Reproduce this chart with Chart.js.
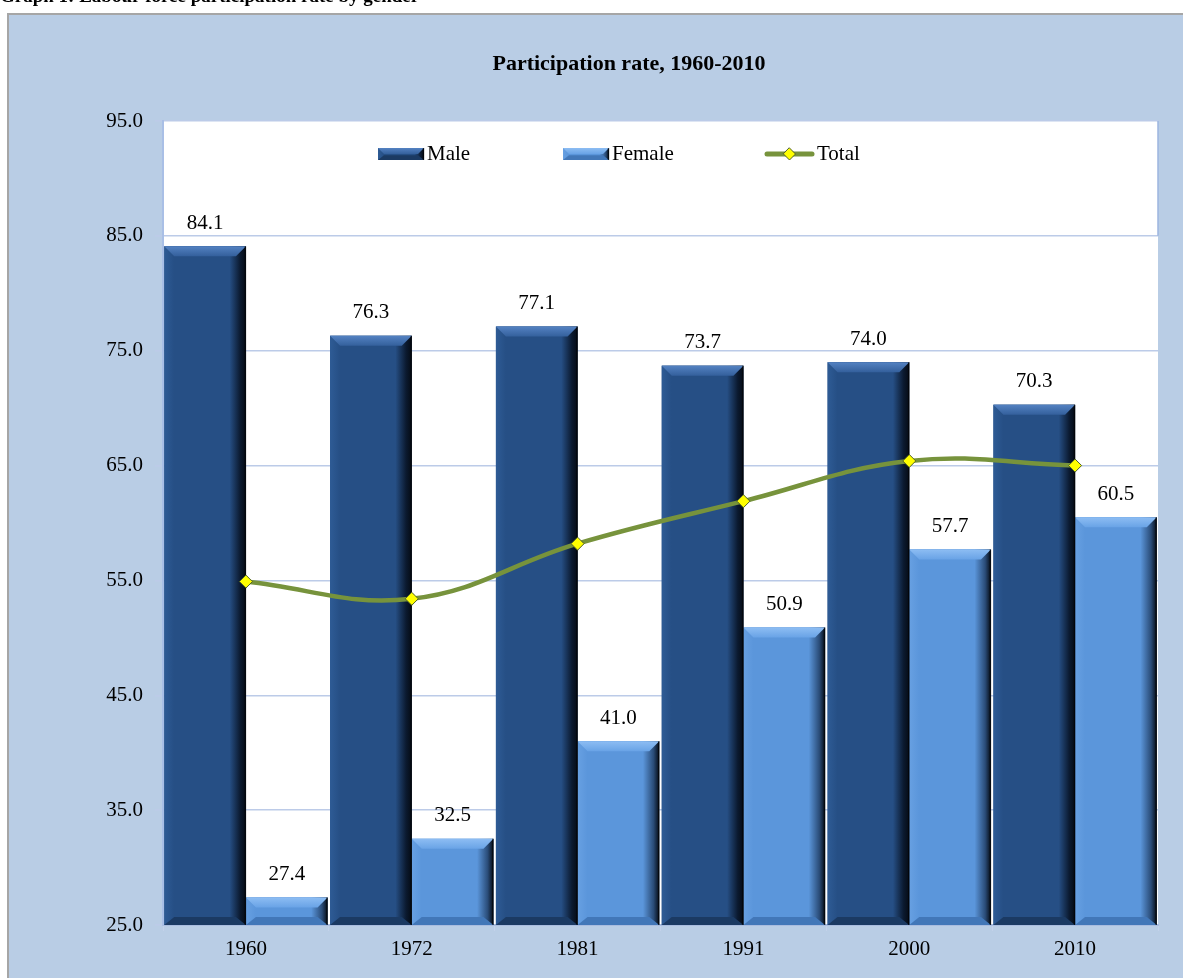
<!DOCTYPE html>
<html>
<head>
<meta charset="utf-8">
<script src="https://cdn.jsdelivr.net/npm/chart.js@4.4.1/dist/chart.umd.min.js"></script>
<style>
  html, body { margin: 0; padding: 0; background: #fff; }
  #wrap { position: relative; width: 1183px; height: 978px; overflow: hidden; }
  canvas { position: absolute; left: 0; top: 0; }
</style>
</head>
<body>
<div id="wrap"><canvas id="grafico" width="1183" height="978"></canvas></div>
<script>
// datos
const years = ["1960", "1972", "1981", "1991", "2000", "2010"];
const male = [84.1, 76.3, 77.1, 73.7, 74.0, 70.3];
const female = [27.4, 32.5, 41.0, 50.9, 57.7, 60.5];
const total = [54.9, 53.4, 58.2, 61.9, 65.4, 65.0];
const yTicks = [25, 35, 45, 55, 65, 75, 85, 95];

const serif = '"Liberation Serif", "Times New Roman", serif';

// colores de las barras con bisel
const tonos = {
    Male: { base: '#264F85', top1: '#5482C2', top2: '#34609C', dark: '#0B1A30', bottom: '#1B3A63', left: '#2E5B95' },
    Female: { base: '#5B96DB', top1: '#8DBDF3', top2: '#69A3E6', dark: '#2A4C78', bottom: '#4277B8', left: '#67A0E2' }
};

function dibujarBarra(ctx, x0, x1, y0, y1, t) {
    const b = Math.min(10, (y1 - y0) / 2);
    ctx.save();
    // cuerpo con degradado horizontal
    let g = ctx.createLinearGradient(x0, 0, x1, 0);
    g.addColorStop(0, t.left);
    g.addColorStop(0.12, t.base);
    g.addColorStop(0.8, t.base);
    g.addColorStop(0.93, t.dark);
    g.addColorStop(1, '#050B14');
    ctx.fillStyle = g;
    ctx.fillRect(x0, y0, x1 - x0, y1 - y0);
    // bisel superior
    g = ctx.createLinearGradient(0, y0, 0, y0 + b);
    g.addColorStop(0, t.top1);
    g.addColorStop(1, t.top2);
    ctx.fillStyle = g;
    ctx.beginPath();
    ctx.moveTo(x0, y0);
    ctx.lineTo(x1, y0);
    ctx.lineTo(x1 - b, y0 + b);
    ctx.lineTo(x0 + b, y0 + b);
    ctx.closePath();
    ctx.fill();
    // bisel inferior
    ctx.fillStyle = t.bottom;
    ctx.beginPath();
    ctx.moveTo(x0, y1);
    ctx.lineTo(x1, y1);
    ctx.lineTo(x1 - b, y1 - b * 0.8);
    ctx.lineTo(x0 + b, y1 - b * 0.8);
    ctx.closePath();
    ctx.fill();
    // borde oscuro derecho
    ctx.strokeStyle = 'rgba(0,0,0,0.55)';
    ctx.lineWidth = 1.5;
    ctx.beginPath();
    ctx.moveTo(x1 - 0.5, y0);
    ctx.lineTo(x1 - 0.5, y1);
    ctx.stroke();
    ctx.restore();
}

const fondo = {
    id: 'fondo',
    beforeDraw(chart) {
        const ctx = chart.ctx;
        const a = chart.chartArea;
        ctx.save();
        ctx.fillStyle = '#ffffff';
        ctx.fillRect(0, 0, chart.width, chart.height);
        // texto de la pagina, cortado arriba
        ctx.fillStyle = '#000';
        ctx.font = 'bold 19px ' + serif;
        ctx.textBaseline = 'alphabetic';
        ctx.fillText('Graph 1: Labour force participation rate by gender', 0, 1.5);
        // panel
        ctx.fillStyle = '#B9CDE5';
        ctx.fillRect(8, 14, chart.width, chart.height);
        ctx.strokeStyle = '#A6A6A6';
        ctx.lineWidth = 2;
        ctx.strokeRect(8, 14, chart.width + 10, chart.height + 10);
        // area de trazado
        ctx.fillStyle = '#ffffff';
        ctx.fillRect(a.left, a.top, a.right - a.left, a.bottom - a.top);
        // titulo
        ctx.fillStyle = '#000';
        ctx.font = 'bold 22px ' + serif;
        ctx.textAlign = 'center';
        ctx.textBaseline = 'middle';
        ctx.fillText('Participation rate, 1960-2010', 629, 64);
        ctx.restore();
    },
    afterDatasetDraw(chart, args) {
        const ds = chart.data.datasets[args.index];
        if (ds.type !== 'bar') return;
        const ctx = chart.ctx;
        const t = tonos[ds.label];
        const bottom = chart.chartArea.bottom;
        args.meta.data.forEach(bar => {
            const p = bar.getProps(['x', 'y', 'base', 'width'], true);
            dibujarBarra(ctx, p.x - p.width / 2, p.x + p.width / 2, p.y, Math.min(p.base, bottom), t);
        });
    },
    afterDraw(chart) {
        const ctx = chart.ctx;
        const a = chart.chartArea;
        ctx.save();
        // borde derecho parte superior
        ctx.strokeStyle = '#9DB4DF';
        ctx.lineWidth = 1.5;
        ctx.beginPath();
        ctx.moveTo(a.right, a.top);
        ctx.lineTo(a.right, chart.scales.y.getPixelForValue(85));
        ctx.stroke();
        // etiquetas de datos
        ctx.fillStyle = '#000';
        ctx.font = '21px ' + serif;
        ctx.textAlign = 'center';
        ctx.textBaseline = 'middle';
        chart.data.datasets.forEach((ds, i) => {
            if (ds.type !== 'bar') return;
            chart.getDatasetMeta(i).data.forEach((bar, j) => {
                ctx.fillText(ds.data[j].toFixed(1), bar.x, bar.y - 23);
            });
        });
        // leyenda
        const ly = 154;
        ctx.textAlign = 'left';
        dibujarBarra(ctx, 378, 424, ly - 6, ly + 6, tonos.Male);
        ctx.fillStyle = '#000';
        ctx.fillText('Male', 427, ly);
        dibujarBarra(ctx, 563, 609, ly - 6, ly + 6, tonos.Female);
        ctx.fillStyle = '#000';
        ctx.fillText('Female', 612, ly);
        ctx.strokeStyle = '#77933C';
        ctx.lineWidth = 5;
        ctx.lineCap = 'round';
        ctx.beginPath();
        ctx.moveTo(767, ly);
        ctx.lineTo(812, ly);
        ctx.stroke();
        ctx.fillStyle = '#FFFF00';
        ctx.strokeStyle = '#4F6228';
        ctx.lineWidth = 1;
        ctx.beginPath();
        ctx.moveTo(789.5, ly - 6);
        ctx.lineTo(795.5, ly);
        ctx.lineTo(789.5, ly + 6);
        ctx.lineTo(783.5, ly);
        ctx.closePath();
        ctx.fill();
        ctx.stroke();
        ctx.fillStyle = '#000';
        ctx.fillText('Total', 817, ly);
        ctx.restore();
    }
};

const ctx = document.getElementById('grafico').getContext('2d');
const grafico = new Chart(ctx, {
    data: {
        labels: years,
        datasets: [
            { type: 'line', label: 'Total', data: total, order: 0,
              borderColor: '#77933C', borderWidth: 4.5, tension: 0.4, fill: false,
              pointStyle: 'rectRot', pointRadius: 6.5, pointBackgroundColor: '#FFFF00',
              pointBorderColor: '#4F6228', pointBorderWidth: 1 },
            { type: 'bar', label: 'Male', data: male, order: 1, backgroundColor: '#264F85',
              borderWidth: 0, categoryPercentage: 0.985, barPercentage: 1 },
            { type: 'bar', label: 'Female', data: female, order: 1, backgroundColor: '#5B96DB',
              borderWidth: 0, categoryPercentage: 0.985, barPercentage: 1 }
        ]
    },
    options: {
        responsive: false,
        animation: false,
        layout: { padding: { top: 121, left: 0, right: 25, bottom: 0 } },
        plugins: {
            legend: { display: false },
            tooltip: { enabled: false }
        },
        scales: {
            x: {
                afterFit: s => { s.height = 53; },
                grid: { display: true, drawOnChartArea: false, tickLength: 6, color: '#C3D1EA', offset: true },
                border: { color: '#A9BCDF', width: 2 },
                ticks: { color: '#000', font: { family: serif, size: 21 }, padding: 6 }
            },
            y: {
                min: 25,
                max: 95,
                afterFit: s => { s.width = 163; },
                afterBuildTicks: s => { s.ticks = yTicks.map(v => ({ value: v })); },
                grid: { color: '#BCCBE8', lineWidth: 1.5, tickLength: 8 },
                border: { color: '#A9BFE6', width: 2 },
                ticks: { color: '#000', font: { family: serif, size: 21 }, padding: 12,
                         callback: v => Number(v).toFixed(1) }
            }
        }
    },
    plugins: [fondo]
});
</script>
</body>
</html>
